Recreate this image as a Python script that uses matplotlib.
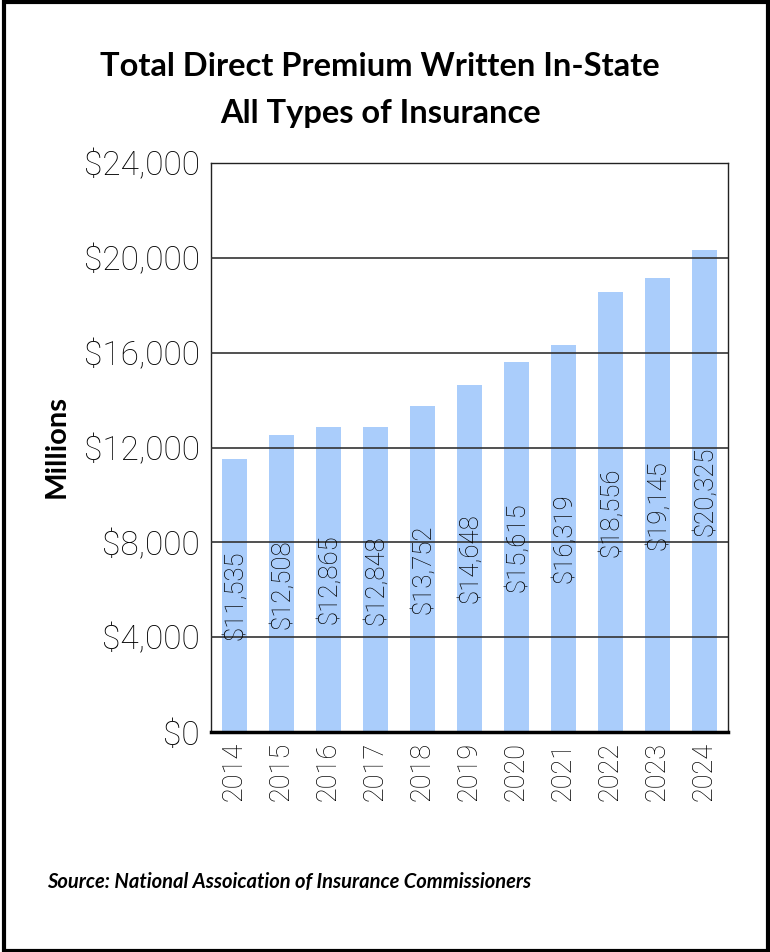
import matplotlib
matplotlib.use('Agg')
import matplotlib.pyplot as plt
from matplotlib.patches import Rectangle

years = ['2014', '2015', '2016', '2017', '2018', '2019', '2020', '2021', '2022', '2023', '2024']
premiums = [11535, 12508, 12865, 12848, 13752, 14648, 15615, 16319, 18556, 19145, 20325]
yticks = [0, 4000, 8000, 12000, 16000, 20000, 24000]

plt.rcParams['font.family'] = ['Lato', 'DejaVu Sans']
thin = ['Roboto', 'Lato', 'DejaVu Sans']

fig = plt.figure(figsize=(7.7, 9.52), dpi=100)
ax = fig.add_axes([211 / 770, 1 - 732 / 952, (728 - 211) / 770, (732 - 163) / 952])

x = list(range(len(years)))
ax.bar(x, premiums, width=0.52, color='#aacdfb', zorder=2)

# gridlines sit over the bars
for t in yticks[1:-1]:
    ax.axhline(t, color='#333333', linewidth=1.2, zorder=3)

for xi, v in zip(x, premiums):
    ax.text(xi, v / 2, f'${v:,}', rotation=90, ha='center', va='center',
            fontsize=18.5, color='black', zorder=4, family=thin, fontweight='light')

ax.set_xlim(-0.5, len(years) - 0.5)
ax.set_ylim(0, 24000)
ax.set_yticks(yticks)
ax.set_yticklabels([f'${t:,}' for t in yticks], fontsize=24, family=thin, fontweight='light')
ax.set_xticks(x)
ax.set_xticklabels(years, rotation=90, fontsize=19.5, family=thin, fontweight='light')
ax.tick_params(axis='both', length=0, colors='black')
ax.tick_params(axis='y', pad=8)
ax.tick_params(axis='x', pad=7)

for side in ['left', 'right', 'top']:
    ax.spines[side].set_linewidth(1.0)
    ax.spines[side].set_color('#222222')
ax.spines['bottom'].set_linewidth(2.5)
ax.spines['bottom'].set_color('black')

fig.text(57 / 770, 1 - 447 / 952, 'Millions', rotation=90, ha='center', va='center',
         fontsize=21, fontweight='bold')

fig.text(380 / 770, 1 - 66 / 952, 'Total Direct Premium Written In-State',
         ha='center', va='center', fontsize=23.5, fontweight='bold')
fig.text(380 / 770, 1 - 113 / 952, 'All Types of Insurance',
         ha='center', va='center', fontsize=23.5, fontweight='bold')
fig.text(47 / 770, 1 - 882 / 952, 'Source: National Assoication of Insurance Commissioners',
         ha='left', va='center', fontsize=14.5, fontweight='bold', style='italic')

# outer frame
fig.patches.append(Rectangle((4 / 770, 1 / 952), 764 / 770, 949 / 952, transform=fig.transFigure,
                             fill=False, edgecolor='black', linewidth=3))

fig.savefig('out.png', dpi=100)
